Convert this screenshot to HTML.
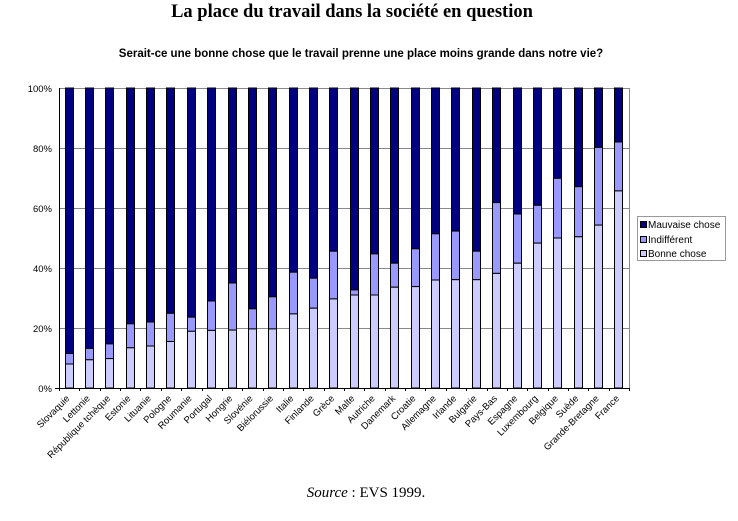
<!DOCTYPE html>
<html><head><meta charset="utf-8"><style>
html,body{margin:0;padding:0;background:#fff;}
svg{display:block;}
</style></head><body>
<svg width="738" height="521" xmlns="http://www.w3.org/2000/svg" id="s">
<text x="352" y="17" text-anchor="middle" font-family="Liberation Serif, serif" font-weight="bold" font-size="18.5">La place du travail dans la société en question</text>
<text x="361" y="57" text-anchor="middle" font-family="Liberation Sans, sans-serif" font-weight="bold" font-size="11.5">Serait-ce une bonne chose que le travail prenne une place moins grande dans notre vie?</text>
<g stroke="#888" stroke-width="1">
<line x1="59" y1="88.5" x2="629" y2="88.5"/>
<line x1="59" y1="148.5" x2="629" y2="148.5"/>
<line x1="59" y1="208.5" x2="629" y2="208.5"/>
<line x1="59" y1="268.5" x2="629" y2="268.5"/>
<line x1="59" y1="328.5" x2="629" y2="328.5"/>
<line x1="629.5" y1="88" x2="629.5" y2="388"/>
</g>
<g font-family="Liberation Sans, sans-serif" font-size="9.5" text-anchor="end" fill="#000">
<text x="52" y="92">100%</text><text x="52" y="152">80%</text><text x="52" y="212">60%</text><text x="52" y="272">40%</text><text x="52" y="332">20%</text><text x="52" y="392">0%</text>
</g>
<g id="bars"></g>
<g stroke="#000" stroke-width="1">
<line x1="59.5" y1="88" x2="59.5" y2="391"/>
<line x1="55" y1="388.5" x2="629" y2="388.5"/>
</g>
<g id="labels" font-family="Liberation Sans, sans-serif" font-size="9.5" fill="#000"></g>
<rect x="637.5" y="216.5" width="88" height="44" fill="#fff" stroke="#999"/>
<rect x="640.5" y="221.5" width="6" height="6" fill="#000080" stroke="#000"/>
<rect x="640.5" y="236.5" width="6" height="6" fill="#9999ff" stroke="#000"/>
<rect x="640.5" y="250.5" width="6" height="6" fill="#ccccff" stroke="#000"/>
<g font-family="Liberation Sans, sans-serif" font-size="10" fill="#000">
<text x="648" y="228">Mauvaise chose</text><text x="648" y="243">Indifférent</text><text x="648" y="257">Bonne chose</text>
</g>
<text x="366" y="497" text-anchor="middle" font-family="Liberation Serif, serif" font-size="15"><tspan font-style="italic">Source</tspan> : EVS 1999.</text>
</svg>
<script>
var d=[["Slovaquie",8,11.5],["Lettonie",9.4,13.2],["République tchèque",9.8,14.7],["Estonie",13.4,21.4],["Lituanie",14,22],["Pologne",15.5,24.9],["Roumanie",18.9,23.6],["Portugal",19.2,29],["Hongrie",19.3,35],["Slovénie",19.7,26.4],["Biélorussie",19.7,30.4],["Italie",24.7,38.6],["Finlande",26.6,36.6],["Grèce",29.7,45.6],["Malte",31,32.7],["Autriche",31,44.7],["Danemark",33.6,41.6],["Croatie",33.8,46.4],["Allemagne",36,51.4],["Irlande",36.1,52.3],["Bulgarie",36.1,45.6],["Pays-Bas",38.2,61.8],["Espagne",41.6,58],["Luxembourg",48.3,60.9],["Belgique",50,69.9],["Suède",50.4,67.1],["Grande-Bretagne",54.3,80.2],["France",65.7,82]];
var ns="http://www.w3.org/2000/svg",b=document.getElementById("bars"),l=document.getElementById("labels");
function r(x,y,w,h,f){var e=document.createElementNS(ns,"rect");e.setAttribute("x",x);e.setAttribute("y",y);e.setAttribute("width",w);e.setAttribute("height",h);e.setAttribute("fill",f);e.setAttribute("stroke","#000");e.setAttribute("stroke-width","1");b.appendChild(e);}
var s=570/28;
d.forEach(function(v,i){var cx=59+s*(i+0.5),x=Math.round(cx-4.5)+0.5,w=8;
function Y(p){return 388-p*3;}
r(x,Y(100),w,Y(v[2])-Y(100),"#000080");
r(x,Y(v[2]),w,Y(v[1])-Y(v[2]),"#9999ff");
r(x,Y(v[1]),w,Y(0)-Y(v[1]),"#ccccff");
var t=Math.round(59+s*(i+1))+0.5;var tl=document.createElementNS(ns,"line");tl.setAttribute("x1",t);tl.setAttribute("x2",t);tl.setAttribute("y1",388);tl.setAttribute("y2",391);tl.setAttribute("stroke","#000");b.appendChild(tl);
var tx=document.createElementNS(ns,"text");tx.setAttribute("text-anchor","end");var px=cx+1,py=399;tx.setAttribute("x",px);tx.setAttribute("y",py);tx.setAttribute("transform","rotate(-45 "+px+" "+py+")");tx.textContent=v[0];l.appendChild(tx);});
</script>
</body></html>
